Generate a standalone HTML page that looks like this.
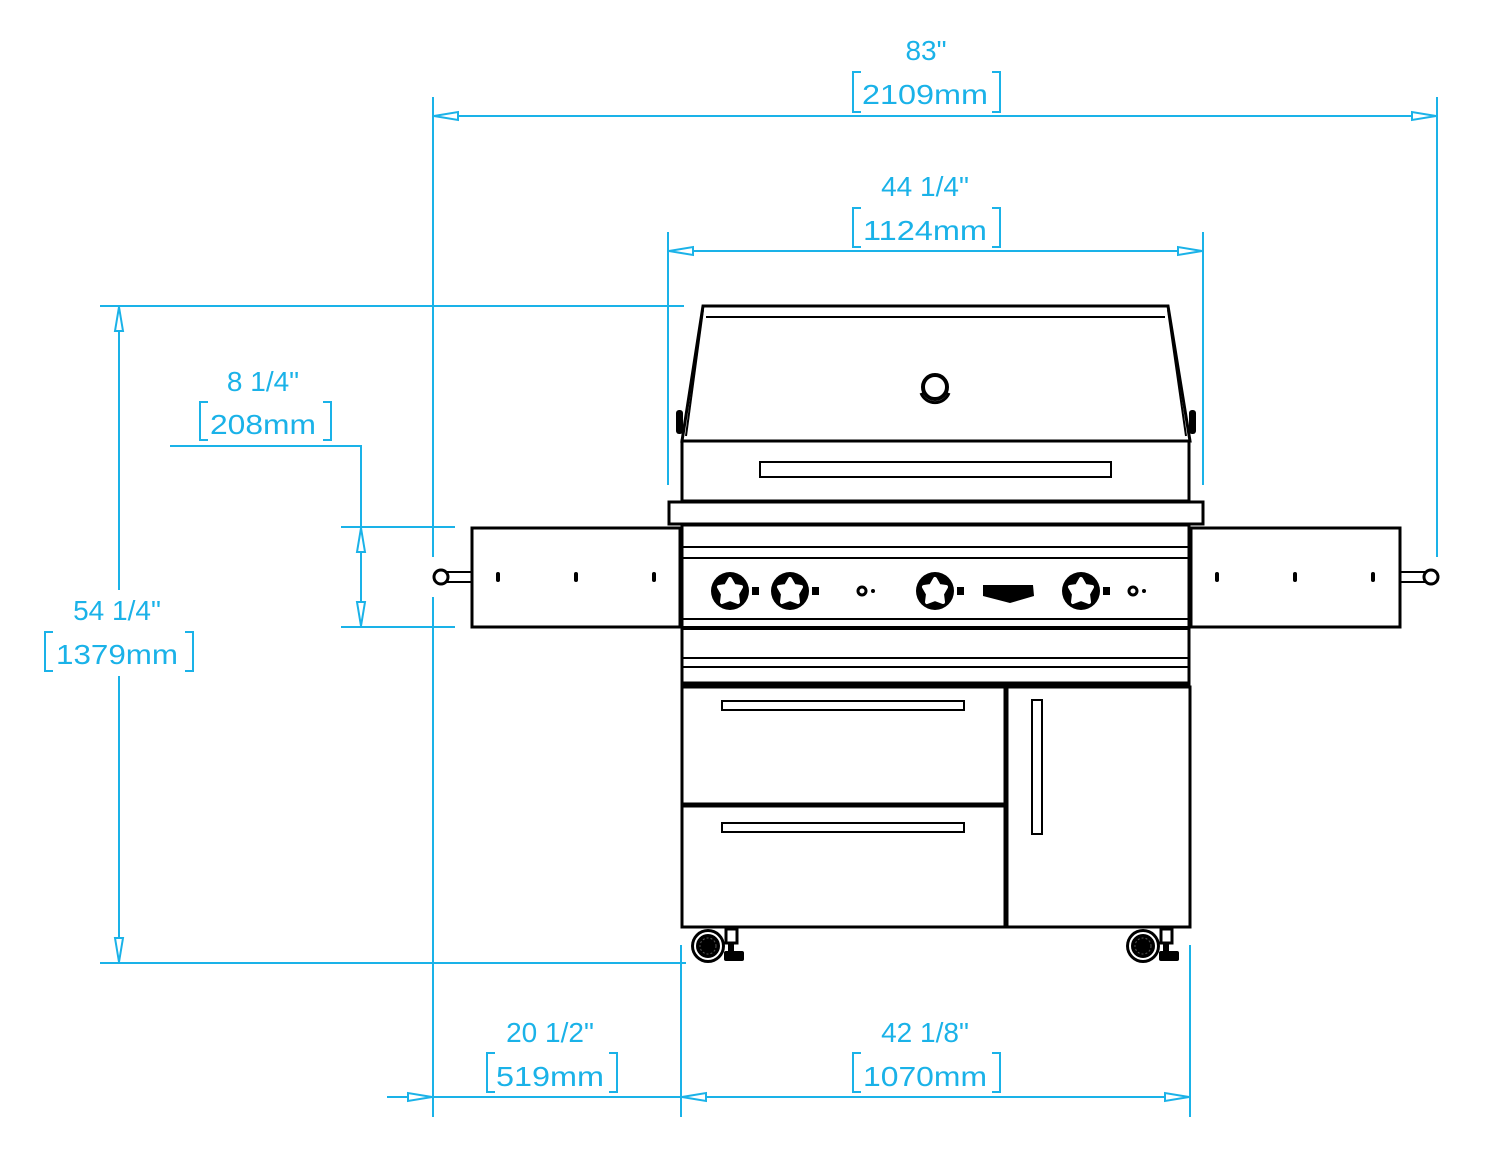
<!DOCTYPE html>
<html><head><meta charset="utf-8"><style>
html,body{margin:0;padding:0;background:#fff;}
svg{display:block;}
.d{stroke:#1ab2e8;stroke-width:2;fill:none;}
.a{stroke:#1ab2e8;stroke-width:2;fill:#fff;}
.t{fill:#1ab2e8;font-family:"Liberation Sans",sans-serif;font-size:28px;text-anchor:middle;}
.k{stroke:#000;stroke-width:3;fill:#fff;}
.k2{stroke:#000;stroke-width:2;fill:none;}
</style></head><body>
<svg width="1500" height="1160" viewBox="0 0 1500 1160" xmlns="http://www.w3.org/2000/svg">
<defs>
<g id="knob"><circle r="19" fill="#000"/><path d="M0,-12 L4,-5 L11,-4 L7,3 L8,11 L0,8 L-8,11 L-7,3 L-11,-4 L-4,-5 Z" fill="#fff" stroke="#fff" stroke-width="4" stroke-linejoin="round"/><rect x="22" y="-4" width="7" height="8" fill="#000"/></g>
<g id="caster"><circle r="17" fill="#000"/><circle r="13" fill="none" stroke="#fff" stroke-width="2"/><circle r="8" fill="none" stroke="#555" stroke-width="1" stroke-dasharray="2 2"/><rect x="18" y="-17" width="11" height="14" fill="none" stroke="#000" stroke-width="3"/><rect x="20" y="-3" width="6" height="8" fill="#000"/><rect x="16" y="5" width="20" height="10" rx="2" fill="#000"/></g>
</defs>

<!-- 83 -->
<line class="d" x1="433" y1="97" x2="433" y2="557"/>
<line class="d" x1="433" y1="597" x2="433" y2="1117"/>
<line class="d" x1="1437" y1="97" x2="1437" y2="557"/>
<line class="d" x1="433" y1="116" x2="1437" y2="116"/>
<path class="a" d="M434,116 L458,112 L458,120 Z"/>
<path class="a" d="M1436,116 L1412,112 L1412,120 Z"/>
<text class="t" x="926" y="60">83"</text>
<text class="t" x="925" y="104" textLength="126" lengthAdjust="spacingAndGlyphs">2109mm</text>
<path class="d" d="M861,72 H853 V112 H861 M992,72 H1000 V112 H992"/>

<!-- 44 1/4 -->
<line class="d" x1="668" y1="232" x2="668" y2="485"/>
<line class="d" x1="1203" y1="232" x2="1203" y2="485"/>
<line class="d" x1="668" y1="251" x2="1203" y2="251"/>
<path class="a" d="M669,251 L693,247 L693,255 Z"/>
<path class="a" d="M1202,251 L1178,247 L1178,255 Z"/>
<text class="t" x="925" y="196">44 1/4"</text>
<text class="t" x="925" y="240" textLength="124" lengthAdjust="spacingAndGlyphs">1124mm</text>
<path class="d" d="M861,208 H853 V247 H861 M992,208 H1000 V247 H992"/>

<!-- 54 1/4 -->
<line class="d" x1="100" y1="306" x2="684" y2="306"/>
<line class="d" x1="100" y1="963" x2="686" y2="963"/>
<line class="d" x1="119" y1="306" x2="119" y2="590"/>
<line class="d" x1="119" y1="676" x2="119" y2="963"/>
<path class="a" d="M119,307 L115,331 L123,331 Z"/>
<path class="a" d="M119,962 L115,938 L123,938 Z"/>
<text class="t" x="117" y="620">54 1/4"</text>
<text class="t" x="117" y="664" textLength="122" lengthAdjust="spacingAndGlyphs">1379mm</text>
<path class="d" d="M53,632 H45 V671 H53 M185,632 H193 V671 H185"/>

<!-- 8 1/4 -->
<line class="d" x1="341" y1="527" x2="455" y2="527"/>
<line class="d" x1="341" y1="627" x2="455" y2="627"/>
<polyline class="d" points="170,446 361,446 361,627"/>
<path class="a" d="M361,528 L357,552 L365,552 Z"/>
<path class="a" d="M361,626 L357,602 L365,602 Z"/>
<text class="t" x="263" y="391">8 1/4"</text>
<text class="t" x="263" y="434" textLength="106" lengthAdjust="spacingAndGlyphs">208mm</text>
<path class="d" d="M208,402 H200 V440 H208 M323,402 H331 V440 H323"/>

<!-- bottom -->
<line class="d" x1="681" y1="945" x2="681" y2="1117"/>
<line class="d" x1="1190" y1="945" x2="1190" y2="1117"/>
<line class="d" x1="387" y1="1097" x2="1190" y2="1097"/>
<path class="a" d="M432,1097 L408,1093 L408,1101 Z"/>
<path class="a" d="M682,1097 L706,1093 L706,1101 Z"/>
<path class="a" d="M1189,1097 L1165,1093 L1165,1101 Z"/>
<text class="t" x="550" y="1042">20 1/2"</text>
<text class="t" x="550" y="1086" textLength="108" lengthAdjust="spacingAndGlyphs">519mm</text>
<path class="d" d="M495,1053 H487 V1092 H495 M609,1053 H617 V1092 H609"/>
<text class="t" x="925" y="1042">42 1/8"</text>
<text class="t" x="925" y="1086" textLength="124" lengthAdjust="spacingAndGlyphs">1070mm</text>
<path class="d" d="M861,1053 H853 V1092 H861 M992,1053 H1000 V1092 H992"/>

<!-- hood -->
<path class="k" d="M703,306 H1168 L1190,441 H682 Z"/>
<line class="k2" x1="706" y1="317" x2="1165" y2="317"/>
<line class="k2" x1="703" y1="310" x2="686" y2="436"/>
<line class="k2" x1="1168" y1="310" x2="1186" y2="436"/>
<rect x="676" y="410" width="7" height="24" rx="3" fill="#000"/>
<rect x="1189" y="410" width="7" height="24" rx="3" fill="#000"/>
<circle cx="935" cy="387" r="12" fill="none" stroke="#000" stroke-width="4"/>
<path d="M921,393 A15,15 0 0 0 949,393" fill="none" stroke="#000" stroke-width="3"/>
<!-- lower hood -->
<rect class="k" x="682" y="441" width="507" height="60"/>
<rect class="k2" x="760" y="462" width="351" height="15"/>
<rect class="k" x="669" y="502" width="534" height="22"/>
<!-- side shelves -->
<rect class="k" x="472" y="528" width="208" height="99"/>
<rect class="k" x="1191" y="528" width="209" height="99"/>
<path class="k2" d="M441,572 H472 M441,582 H472 M1400,572 H1431 M1400,582 H1431"/>
<circle cx="441" cy="577" r="7" class="k"/>
<circle cx="1431" cy="577" r="7" class="k"/>
<g fill="#000">
<rect x="496" y="572" width="4" height="10" rx="2"/><rect x="574" y="572" width="4" height="10" rx="2"/><rect x="652" y="572" width="4" height="10" rx="2"/>
<rect x="1215" y="572" width="4" height="10" rx="2"/><rect x="1293" y="572" width="4" height="10" rx="2"/><rect x="1371" y="572" width="4" height="10" rx="2"/>
</g>
<!-- control panel -->
<rect class="k" x="682" y="525" width="507" height="162"/>
<path class="k2" d="M682,547 H1189 M682,558 H1189 M682,619 H1189 M682,658 H1189 M682,667 H1189"/>
<line x1="682" y1="628" x2="1189" y2="628" stroke="#000" stroke-width="4"/>
<line x1="682" y1="684" x2="1189" y2="684" stroke="#000" stroke-width="5"/>
<use href="#knob" x="730" y="591"/>
<use href="#knob" x="790" y="591"/>
<use href="#knob" x="935" y="591"/>
<use href="#knob" x="1081" y="591"/>
<circle cx="862" cy="591" r="4" fill="none" stroke="#000" stroke-width="3"/><circle cx="873" cy="591" r="2" fill="#000"/>
<circle cx="1133" cy="591" r="4" fill="none" stroke="#000" stroke-width="3"/><circle cx="1144" cy="591" r="2" fill="#000"/>
<path d="M983,585 H1033 L1034,596 L1010,603 L983,596 Z" fill="#000"/>
<!-- cabinet -->
<rect class="k" x="682" y="687" width="508" height="240"/>
<line x1="1006" y1="687" x2="1006" y2="927" stroke="#000" stroke-width="5"/>
<line x1="682" y1="805" x2="1004" y2="805" stroke="#000" stroke-width="5"/>
<rect class="k2" x="722" y="701" width="242" height="9"/>
<rect class="k2" x="722" y="823" width="242" height="9"/>
<rect class="k2" x="1032" y="700" width="10" height="134"/>
<use href="#caster" x="708" y="946"/>
<use href="#caster" x="1143" y="946"/>
</svg>
</body></html>
